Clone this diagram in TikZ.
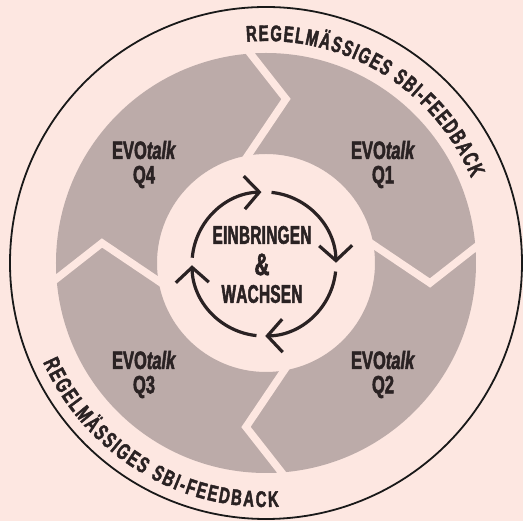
\documentclass[tikz,border=0pt]{standalone}
\usepackage{fontspec}
\usetikzlibrary{decorations.text,arrows.meta}
\newfontfamily\cond{Liberation Sans}[FakeStretch=0.66, BoldFeatures={FakeBold=2}, BoldItalicFeatures={FakeBold=2}]
\newfontfamily\condc{Liberation Sans}[FakeStretch=0.6, BoldFeatures={FakeBold=2}]
\definecolor{bgc}{HTML}{FDE7E1}
\definecolor{ringc}{HTML}{BCABA9}
\definecolor{inkc}{HTML}{2A2223}
\newcommand\tk{\kern0.3pt}
\tikzset{
  qtext/.style={text=inkc, font=\cond\bfseries\fontsize{25}{25}\selectfont, inner sep=0pt},
  ctext/.style={text=inkc, font=\condc\bfseries\fontsize{25.5}{25.5}\selectfont, inner sep=0pt},
  gapline/.style={draw=bgc, line width=7.5, line join=miter},
  cyc/.style={draw=inkc, line width=3.2, -{Straight Barb[length=15,width=33,line width=3.2]}},
}
\begin{document}
\begin{tikzpicture}[x=1pt,y=1pt]
\useasboundingbox[fill=bgc] (-266,-258) rectangle (257,263);
% outer circle
\draw[line width=1.8, draw=black!90] (0,0) circle[radius=256];
% gray ring
\fill[ringc, even odd rule] (0,0) circle[radius=210] (0,0) circle[radius=109];
% chevron gaps
\foreach \a in {0,-90,-180,-270}{
  \begin{scope}[rotate=\a]
    \draw[gapline] (-20,215) -- (20,164) -- (-24.5,98);
  \end{scope}
}
% quarter labels
\node[qtext] (q1a) at (117,113) {EVO\textit{talk}};
\node[qtext] (q1b) at (117,86) {Q1};
\node[qtext] (q2a) at (117,-97) {EVO\textit{talk}};
\node[qtext] (q2b) at (117,-124) {Q2};
\node[qtext] (q3a) at (-122,-97) {EVO\textit{talk}};
\node[qtext] (q3b) at (-122,-124) {Q3};
\node[qtext] (q4a) at (-122,113) {EVO\textit{talk}};
\node[qtext] (q4b) at (-122,86) {Q4};
% centre text
\node[ctext] (c1) at (-4,28) {E\tk I\tk N\tk B\tk R\tk I\tk N\tk G\tk E\tk N};
\node[ctext, font=\cond\bfseries\fontsize{31}{31}\selectfont] (c2) at (-4,-1.5) {\&};
\node[ctext] (c3) at (-4,-31) {W\tk A\tk C\tk H\tk S\tk E\tk N};
% cycle arrows
\coordinate (ac) at (-2,-1);
\draw[cyc] (ac) ++(175:72) arc[start angle=175, end angle=92, radius=72];
\draw[cyc] (ac) ++(84:72) arc[start angle=84, end angle=1, radius=72];
\draw[cyc] (ac) ++(-6:72) arc[start angle=-6, end angle=-89, radius=72];
\draw[cyc] (ac) ++(-96:72) arc[start angle=-96, end angle=-179, radius=72];
% outer text
\path[decorate, decoration={text along path, text align={fit to path},
  text={|\cond\bfseries\fontsize{22.5}{22.5}\selectfont\color{inkc}|REGELMÄSSIGES SBI-FEEDBACK}}]
  (0,0) ++(95:222) arc[start angle=95, end angle=22.5, radius=222];
\path[decorate, decoration={text along path, text align={fit to path},
  text={|\cond\bfseries\fontsize{22.5}{22.5}\selectfont\color{inkc}|REGELMÄSSIGES SBI-FEEDBACK}}]
  (0,0) ++(204:244) arc[start angle=204, end angle=273, radius=244];
\end{tikzpicture}
\end{document}
